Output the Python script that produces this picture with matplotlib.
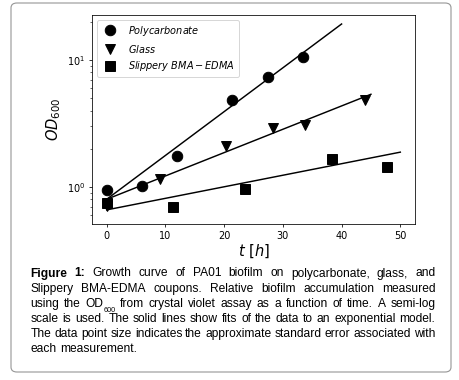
import matplotlib
matplotlib.use("Agg")
import matplotlib.pyplot as plt
from matplotlib.patches import FancyBboxPatch

# ---------------- data ----------------
poly_t = [0, 6, 12, 21.4, 27.4, 33.4]
poly_od = [0.94, 1.02, 1.75, 4.82, 7.31, 10.5]

glass_t = [0, 9, 20.3, 28.3, 33.7, 44]
glass_od = [0.71, 1.15, 2.09, 2.90, 3.06, 4.87]

slip_t = [0, 11.3, 23.5, 38.3, 47.7]
slip_od = [0.75, 0.69, 0.96, 1.65, 1.43]

# exponential fits (straight on semilog axes): endpoints
poly_fit_t = [0, 40]
poly_fit_od = [0.80, 19.2]
glass_fit_t = [0, 45]
glass_fit_od = [0.80, 5.37]
slip_fit_t = [0, 50]
slip_fit_od = [0.66, 1.88]

labels = [r"$Polycarbonate$", r"$Glass$", r"$Slippery\ BMA-EDMA$"]
x_ticks = [0, 10, 20, 30, 40, 50]

caption_lines = [
    "Figure 1: Growth curve of PA01 biofilm on polycarbonate, glass, and",
    "Slippery BMA-EDMA coupons. Relative biofilm accumulation measured",
    "using the OD_600 from crystal violet assay as a function of time. A semi-log",
    "scale is used. The solid lines show fits of the data to an exponential model.",
    "The data point size indicates the approximate standard error associated with",
    "each measurement.",
]

# ---------------- figure ----------------
DPI = 70
W, H = 459, 380
fig = plt.figure(figsize=(W / DPI, H / DPI), dpi=DPI)
fig.patch.set_facecolor("white")

# rounded frame
frame = FancyBboxPatch((11 / W, 1 - 372 / H), (451 - 11) / W, (372 - 3) / H,
                       boxstyle="round,pad=0,rounding_size=0.013",
                       transform=fig.transFigure, facecolor="none",
                       edgecolor="#9a9a9a", linewidth=1.2)
fig.patches.append(frame)

ax = fig.add_axes([92 / W, 1 - 224 / H, (415 - 92) / W, (224 - 15) / H])
ms = 10.8
ax.plot(poly_t, poly_od, "o", color="black", ms=ms, label=labels[0])
ax.plot(glass_t, glass_od, "v", color="black", ms=ms, label=labels[1])
ax.plot(slip_t, slip_od, "s", color="black", ms=ms, label=labels[2])
ax.plot(poly_fit_t, poly_fit_od, "-", color="black", lw=1.5)
ax.plot(glass_fit_t, glass_fit_od, "-", color="black", lw=1.5)
ax.plot(slip_fit_t, slip_fit_od, "-", color="black", lw=1.5)

ax.set_yscale("log")
ax.set_xlim(-2.5, 52.5)
ax.set_ylim(0.511, 22.6)
ax.set_xticks(x_ticks)
ax.set_xlabel(r"$t\ [h]$", fontsize=15, labelpad=2)
ax.set_ylabel(r"$OD_{600}$", fontsize=15, labelpad=4)
ax.tick_params(labelsize=10)
ax.legend(loc="upper left", fontsize=10)

# ---------------- justified caption ----------------
renderer = fig.canvas.get_renderer()
fs = 12.3
sub_fs = 7.5
x_left, x_right = 30.5, 435.5
base0, dy = 276.5, 15.1
space_px = 0.278 * fs * DPI / 72
font = "Liberation Sans"


def make_word(word, bold):
    if word.startswith("OD_"):
        t1 = fig.text(0, 0, "OD", fontsize=fs, family=font, va="baseline")
        t2 = fig.text(0, 0, word[3:], fontsize=sub_fs, family=font, va="baseline")
        w1 = t1.get_window_extent(renderer).width
        w2 = t2.get_window_extent(renderer).width
        return [(t1, 0, 0), (t2, w1, -5.5)], w1 + w2
    t = fig.text(0, 0, word, fontsize=fs, family=font, va="baseline",
                 fontweight="bold" if bold else "normal")
    return [(t, 0, 0)], t.get_window_extent(renderer).width


for i, line in enumerate(caption_lines):
    words = line.split(" ")
    built = [make_word(w, i == 0 and j < 2) for j, w in enumerate(words)]
    total = sum(b[1] for b in built)
    if i < len(caption_lines) - 1 and len(built) > 1:
        gap = (x_right - x_left - total) / (len(built) - 1)
    else:
        gap = space_px
    x = x_left
    yb = base0 + i * dy
    for items, wdt in built:
        for t, dx, dyy in items:
            t.set_position(((x + dx) / W, 1 - (yb - dyy) / H))
        x += wdt + gap

fig.savefig("out.png", dpi=DPI, facecolor="white")
